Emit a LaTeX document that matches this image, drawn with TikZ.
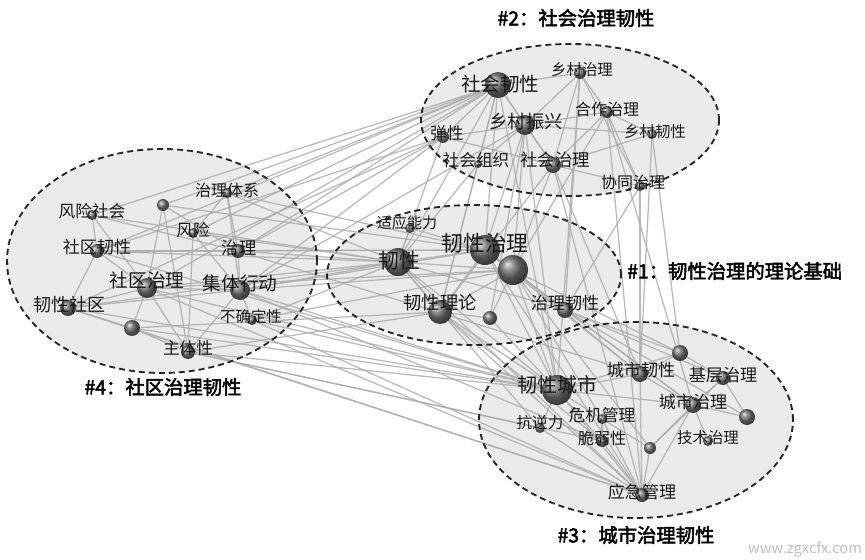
\documentclass[tikz,border=0pt]{standalone}
\usepackage{fontspec}
\setmainfont{Noto Sans CJK SC}[AutoFakeBold=2.5]
\usetikzlibrary{shapes.geometric}
\pgfdeclarelayer{ell}
\pgfdeclarelayer{edge}
\pgfsetlayers{ell,edge,main}
\tikzset{
  clusterell/.style={ellipse, inner sep=0pt, outer sep=0pt, fill=black!8},
  ellborder/.style={ellipse, inner sep=0pt, outer sep=0pt, draw=black!85, line width=1.4pt, dash pattern=on 4.5pt off 3pt},
  ball/.style={circle, inner sep=0pt, outer sep=0pt, shading=ball, ball color=black!60, opacity=0.92},
  lab/.style={inner sep=0pt, text=black!90},
  title/.style={inner sep=0pt, text=black, font=\bfseries\fontsize{14.5pt}{15pt}\selectfont},
  link/.style={draw=black!32, line width=0.95pt, opacity=0.85}
}
\newcommand{\fs}[1]{\fontsize{#1pt}{#1pt}\selectfont}
\begin{document}
\begin{tikzpicture}[x=0.75pt,y=-0.75pt]
\useasboundingbox (0,0) rectangle (865,560);
% cluster ellipses (fill)
\begin{pgfonlayer}{ell}
\node[clusterell, minimum width=223.5pt, minimum height=114pt] (e2f) at (570,120) {};
\node[clusterell, minimum width=232.5pt, minimum height=168pt] (e4f) at (162,261) {};
\node[clusterell, minimum width=220.5pt, minimum height=105pt] (e1f) at (474,275) {};
\node[clusterell, minimum width=235.5pt, minimum height=147pt] (e3f) at (636,420) {};
\end{pgfonlayer}
\node[ellborder, minimum width=223.5pt, minimum height=114pt] (e2) at (570,120) {};
\node[ellborder, minimum width=232.5pt, minimum height=168pt] (e4) at (162,261) {};
\node[ellborder, minimum width=220.5pt, minimum height=105pt] (e1) at (474,275) {};
\node[ellborder, minimum width=235.5pt, minimum height=147pt] (e3) at (636,420) {};
% spheres: cluster 2
\node[ball, minimum size=19.5pt] (s1) at (498,85) {};
\node[ball, minimum size=9pt] (s2) at (580,73) {};
\node[ball, minimum size=15pt] (s3) at (525,125) {};
\node[ball, minimum size=9pt] (s4) at (607,112) {};
\node[ball, minimum size=7.5pt] (s5) at (652,134) {};
\node[ball, minimum size=9pt] (s6) at (443,137) {};
\node[ball, minimum size=6pt] (s7) at (478,164) {};
\node[ball, minimum size=12pt] (s8) at (553,165) {};
\node[ball, minimum size=7.5pt] (s9) at (640,186) {};
% cluster 4
\node[ball, minimum size=7.5pt] (c1) at (227,193) {};
\node[ball, minimum size=9pt] (c2) at (163,205) {};
\node[ball, minimum size=7.5pt] (c3) at (92,215) {};
\node[ball, minimum size=7.5pt] (c4) at (193,233) {};
\node[ball, minimum size=10.5pt] (c5) at (97,251) {};
\node[ball, minimum size=10.5pt] (c6) at (238,251) {};
\node[ball, minimum size=15pt] (c7) at (147,288) {};
\node[ball, minimum size=15pt] (c8) at (240,290) {};
\node[ball, minimum size=12pt] (c9) at (68,308) {};
\node[ball, minimum size=7.5pt] (c10) at (252,320) {};
\node[ball, minimum size=12pt] (c11) at (132,328) {};
\node[ball, minimum size=10.5pt] (c12) at (188,352) {};
% cluster 1
\node[ball, minimum size=7.5pt] (r1) at (410,228) {};
\node[ball, minimum size=21pt] (r2) at (398,262) {};
\node[ball, minimum size=22.5pt] (r3) at (485,250) {};
\node[ball, minimum size=22.5pt] (r4) at (513,270) {};
\node[ball, minimum size=18pt] (r5) at (440,312) {};
\node[ball, minimum size=10.5pt] (r6) at (490,318) {};
\node[ball, minimum size=12pt] (r7) at (565,310) {};
% cluster 3
\node[ball, minimum size=12pt] (u1) at (680,353) {};
\node[ball, minimum size=12pt] (u2) at (640,374) {};
\node[ball, minimum size=10.5pt] (u3) at (723,378) {};
\node[ball, minimum size=22.5pt] (u4) at (557,390) {};
\node[ball, minimum size=12pt] (u5) at (693,405) {};
\node[ball, minimum size=7.5pt] (u6) at (602,419) {};
\node[ball, minimum size=7.5pt] (u7) at (540,428) {};
\node[ball, minimum size=12pt] (u8) at (747,417) {};
\node[ball, minimum size=7.5pt] (u9) at (708,441) {};
\node[ball, minimum size=9pt] (u10) at (602,441) {};
\node[ball, minimum size=9pt] (u11) at (650,448) {};
\node[ball, minimum size=10.5pt] (u12) at (642,495) {};
% links
\begin{pgfonlayer}{edge}
\foreach \a/\b in {
 s1/s3,s1/s6,s1/s7,s1/s8,s1/s2,s3/s4,s3/s8,s3/s2,s3/s5,s4/s5,s4/s9,s2/s8,s2/s4,s8/s9,s5/s8,s6/s8,s7/s3,s4/s8,s2/s9,s6/s3,
 s1/c3,s1/c1,s1/c2,s1/c5,s6/c6,s6/c8,s1/c7,s6/c9,s3/c8,s1/c4,s1/c6,s6/c5,
 s1/r2,s1/r3,s3/r3,s3/r4,s8/r4,s8/r5,s7/r2,s2/r7,s4/r4,s9/r7,s6/r2,s3/r6,s1/r5,s7/r5,
 s1/u4,s3/u4,s8/u2,s2/u4,s4/u5,s9/u2,s5/u2,s8/u12,s4/u12,s5/u1,
 c7/c8,c7/c5,c7/c9,c7/c12,c8/c6,c8/c12,c6/c1,c1/c4,c5/c3,c9/c5,c9/c11,c11/c12,c12/c4,c2/c7,c2/c12,c3/c6,c4/c8,c10/c8,c1/c8,c11/c7,c3/c7,c9/c8,c2/c6,c5/c6,
 c7/r2,c8/r2,c8/r3,c6/r2,c6/r3,c3/r2,c5/r2,c1/r3,c9/r2,c7/r4,c10/r4,c12/r5,c11/r5,c8/r4,c4/r2,c2/r3,c1/r2,c10/r2,c5/r3,
 c7/u4,c8/u4,c9/u4,c12/u7,c10/u4,c11/u12,c7/u12,c8/u10,c6/u2,c12/u4,c5/u4,c9/u12,c10/u12,c11/u4,c12/u10,
 r2/r3,r2/r4,r3/r4,r2/r5,r4/r5,r4/r7,r3/r7,r5/r6,r4/r6,r1/r3,r1/r2,r3/r5,r2/r7,
 r2/u4,r3/u4,r4/u4,r4/u2,r4/u1,r7/u1,r7/u5,r5/u4,r6/u4,r2/u12,r5/u12,r3/u5,r4/u6,r7/u3,r2/u7,r5/u10,r3/u2,r3/u12,r4/u11,r7/u8,
 u4/u2,u4/u5,u4/u6,u4/u7,u4/u10,u4/u12,u2/u5,u2/u1,u1/u3,u3/u5,u3/u8,u5/u9,u5/u11,u11/u12,u6/u12,u10/u12,u5/u12,u2/u12,u7/u12,u3/u11,u6/u10,u11/u6,u4/u1,u5/u8}
 {\draw[link] (\a.center) -- (\b.center);}
\end{pgfonlayer}
% labels
\node[lab, font=\fs{14.6}] (ls1) at (500,84) {社会韧性};
\node[lab, font=\fs{11.6}] (ls2) at (582,70) {乡村治理};
\node[lab, font=\fs{13.7}] (ls3) at (526,122) {乡村振兴};
\node[lab, font=\fs{12}] (ls4) at (607,109) {合作治理};
\node[lab, font=\fs{11.6}] (ls5) at (655,132) {乡村韧性};
\node[lab, font=\fs{12.4}] (ls6) at (447,133) {弹性};
\node[lab, font=\fs{12.5}] (ls7) at (476,160) {社会组织};
\node[lab, font=\fs{13}] (ls8) at (555,160) {社会治理};
\node[lab, font=\fs{12}] (ls9) at (633,182) {协同治理};
\node[lab, font=\fs{12}] (lc1) at (227,190) {治理体系};
\node[lab, font=\fs{12.5}] (lc3) at (92,211) {风险社会};
\node[lab, font=\fs{12.5}] (lc4) at (193,230) {风险};
\node[lab, font=\fs{12.8}] (lc5) at (97,247) {社区韧性};
\node[lab, font=\fs{13}] (lc6) at (239,248) {治理};
\node[lab, font=\fs{14}] (lc7) at (147,280) {社区治理};
\node[lab, font=\fs{14}] (lc8) at (240,283) {集体行动};
\node[lab, font=\fs{13.5}] (lc9) at (69,305) {韧性社区};
\node[lab, font=\fs{11.6}] (lc10) at (251,317) {不确定性};
\node[lab, font=\fs{12.5}] (lc12) at (188,348) {主体性};
\node[lab, font=\fs{11.3}] (lr1) at (407,223) {适应能力};
\node[lab, font=\fs{15.6}] (lr2) at (399,261) {韧性};
\node[lab, font=\fs{16.3}] (lr3) at (485,243) {韧性治理};
\node[lab, font=\fs{13.7}] (lr5) at (440,303) {韧性理论};
\node[lab, font=\fs{12.8}] (lr7) at (565,303) {治理韧性};
\node[lab, font=\fs{12.8}] (lu2) at (641,370) {城市韧性};
\node[lab, font=\fs{12.8}] (lu3) at (723,375) {基层治理};
\node[lab, font=\fs{15}] (lu4) at (557,385) {韧性城市};
\node[lab, font=\fs{12.8}] (lu5) at (693,402) {城市治理};
\node[lab, font=\fs{12.5}] (lu6) at (602,415) {危机管理};
\node[lab, font=\fs{11.7}] (lu7) at (540,423) {抗逆力};
\node[lab, font=\fs{11.6}] (lu9) at (708,438) {技术治理};
\node[lab, font=\fs{12}] (lu10) at (602,438) {脆弱性};
\node[lab, font=\fs{12.8}] (lu12) at (642,492) {应急管理};
% cluster titles
\node[title] (t2) at (576,18) {\#2：社会治理韧性};
\node[title, anchor=west] (t1) at (627,271) {\#1：韧性治理的理论基础};
\node[title] (t4) at (163,387) {\#4：社区治理韧性};
\node[title] (t3) at (636,535) {\#3：城市治理韧性};
% watermark
\node[inner sep=0pt, text=black!25, font=\rmfamily\fs{11}] (wm) at (805,549) {www.zgxcfx.com};
\end{tikzpicture}
\end{document}
